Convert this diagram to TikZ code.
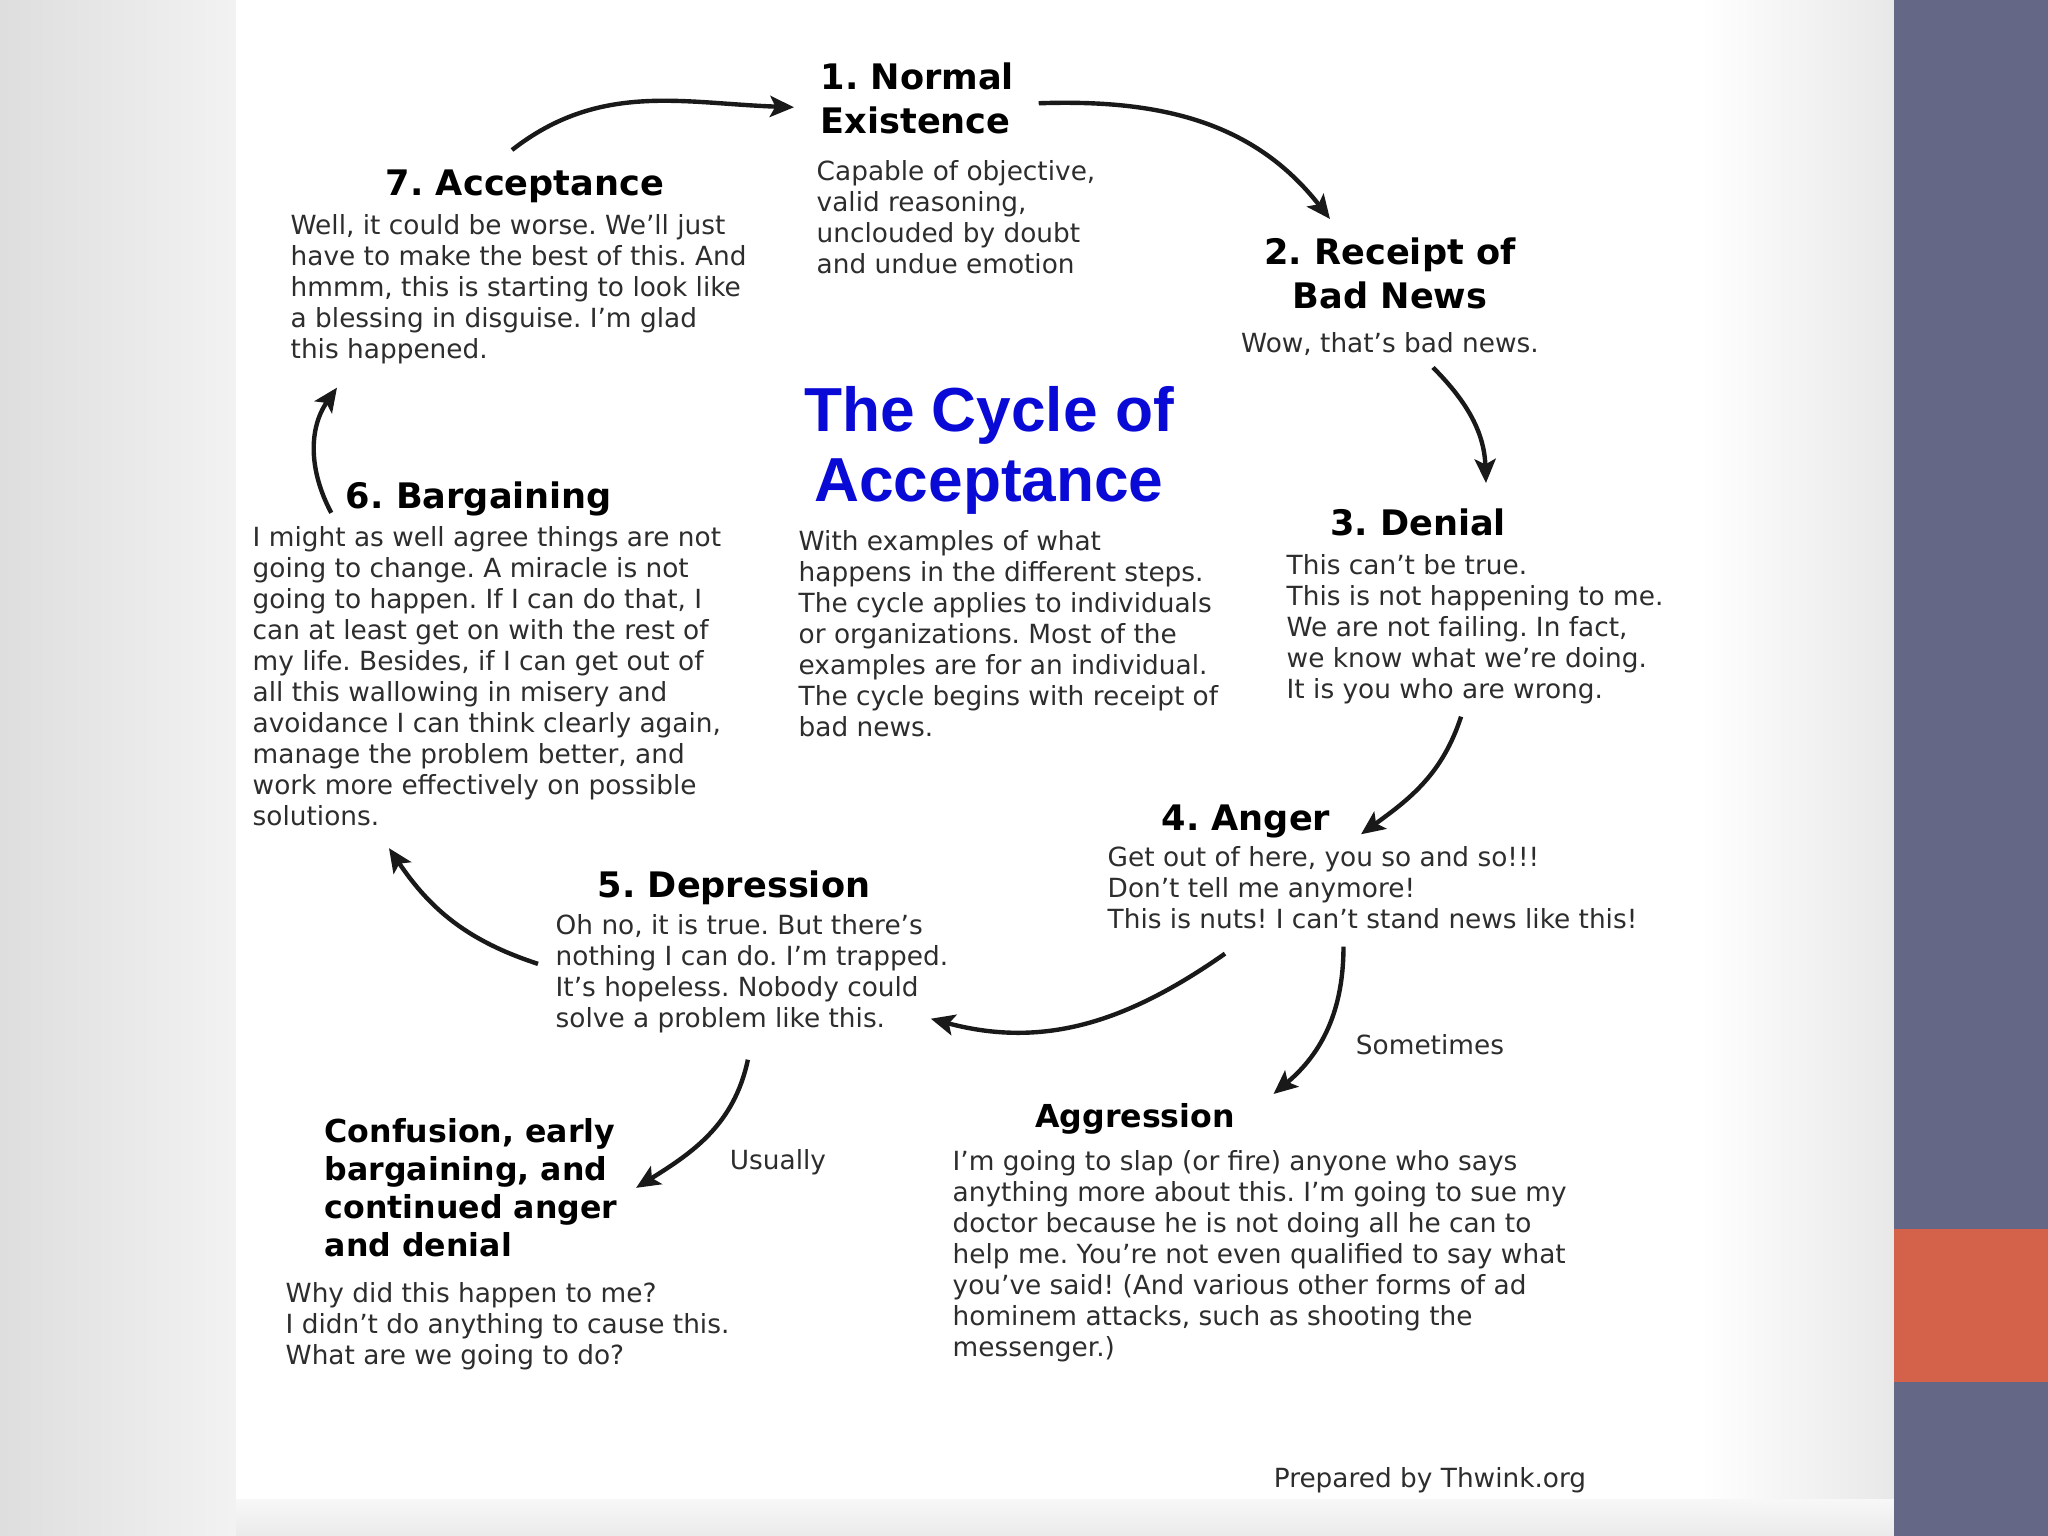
\documentclass[tikz,border=0pt]{standalone}
\usepackage{fontspec}
\setmainfont{DejaVu Sans}
\newfontfamily\titlefont{Liberation Sans}
\usetikzlibrary{arrows.meta, positioning, calc}
\definecolor{SlideSlate}{RGB}{100,104,134}
\definecolor{SlideOrange}{RGB}{212,98,74}
\definecolor{TitleBlue}{RGB}{10,10,215}
\definecolor{BodyGrey}{RGB}{45,45,45}
\frenchspacing

\begin{document}
\begin{tikzpicture}[
    >={Stealth[length=6.8pt,width=6pt,inset=1.5pt]},
    stagehead/.style={
        font=\fontsize{10}{12.5}\selectfont\bfseries,
        inner sep=0pt,
        align=center
    },
    sidehead/.style={
        font=\fontsize{9}{10.8}\selectfont\bfseries,
        inner sep=0pt,
        align=left
    },
    stagetext/.style={
        font=\fontsize{7.5}{8.8}\selectfont,
        text=BodyGrey,
        inner sep=0pt,
        align=left
    },
    cycletitle/.style={
        font=\titlefont\fontsize{17.7}{19.8}\selectfont\bfseries,
        text=TitleBlue,
        inner sep=0pt,
        align=center
    },
    flow/.style={->, line width=1.25pt, draw=black!90}
]

% slide background
\useasboundingbox (0,0) rectangle (20.48,-15.36);
\shade[left color=black!13, right color=black!5] (0,0) rectangle (2.36,-15.36);
\fill[white] (2.36,0) rectangle (18.94,-15.36);
\shade[left color=white, right color=black!9] (17.0,0) rectangle (18.94,-15.36);
\shade[top color=black!3, bottom color=black!8] (2.36,-14.99) rectangle (18.94,-15.36);
\fill[SlideSlate] (18.94,0) rectangle (20.48,-15.36);
\fill[SlideOrange] (18.94,-12.29) rectangle (20.48,-13.82);

\node[cycletitle, anchor=north] (title) at (9.89,-3.86) {The Cycle of\\Acceptance};
\node[stagetext, anchor=north west] (introtxt) at (7.98,-5.30)
{With examples of what\\happens in the different steps.\\The cycle applies to individuals\\or organizations. Most of the\\examples are for an individual.\\The cycle begins with receipt of\\bad news.};

\node[stagehead, align=left, anchor=north west] (normal) at (8.20,-0.62) {1. Normal\\Existence};
\node[stagetext, anchor=north west] (normaltxt) at (8.16,-1.60)
{Capable of objective,\\valid reasoning,\\unclouded by doubt\\and undue emotion};

\node[stagehead, anchor=north] (receipt) at (13.90,-2.37) {2. Receipt of\\Bad News};
\node[stagetext, anchor=north] (receipttxt) at (13.90,-3.32) {Wow, that's bad news.};

\node[stagehead, anchor=north] (denial) at (14.18,-5.08) {3. Denial};
\node[stagetext, anchor=north west] (denialtxt) at (12.86,-5.54)
{This can't be true.\\This is not happening to me.\\We are not failing. In fact,\\we know what we're doing.\\It is you who are wrong.};

\node[stagehead, anchor=north] (anger) at (12.46,-8.04) {4. Anger};
\node[stagetext, anchor=north west] (angertxt) at (11.07,-8.46)
{Get out of here, you so and so!!!\\Don't tell me anymore!\\This is nuts! I can't stand news like this!};

\node[stagehead, anchor=north] (depression) at (7.34,-8.70) {5. Depression};
\node[stagetext, anchor=north west] (depressiontxt) at (5.55,-9.14)
{Oh no, it is true. But there's\\nothing I can do. I'm trapped.\\It's hopeless. Nobody could\\solve a problem like this.};

\node[stagehead, anchor=north] (bargaining) at (4.79,-4.81) {6. Bargaining};
\node[stagetext, anchor=north west] (bargainingtxt) at (2.52,-5.26)
{I might as well agree things are not\\going to change. A miracle is not\\going to happen. If I can do that, I\\can at least get on with the rest of\\my life. Besides, if I can get out of\\all this wallowing in misery and\\avoidance I can think clearly again,\\manage the problem better, and\\work more effectively on possible\\solutions.};

\node[stagehead, anchor=north] (acceptance) at (5.25,-1.69) {7. Acceptance};
\node[stagetext, anchor=north west] (acceptancetxt) at (2.90,-2.14)
{Well, it could be worse. We'll just\\have to make the best of this. And\\hmmm, this is starting to look like\\a blessing in disguise. I'm glad\\this happened.};

\node[sidehead, anchor=north west] (confusion) at (3.24,-11.18)
{Confusion, early\\bargaining, and\\continued anger\\and denial};
\node[stagetext, anchor=north west] (confusiontxt) at (2.85,-12.82)
{Why did this happen to me?\\I didn't do anything to cause this.\\What are we going to do?};

\node[sidehead, anchor=north] (aggression) at (11.35,-11.03) {Aggression};
\node[stagetext, anchor=north west] (aggressiontxt) at (9.52,-11.50)
{I'm going to slap (or fire) anyone who says\\anything more about this. I'm going to sue my\\doctor because he is not doing all he can to\\help me. You're not even qualified to say what\\you've said! (And various other forms of ad\\hominem attacks, such as shooting the\\messenger.)};

\node[stagetext] (usually) at (7.78,-11.62) {Usually};
\node[stagetext] (sometimes) at (14.30,-10.45) {Sometimes};
\node[stagetext] (credit) at (14.30,-14.80) {Prepared by Thwink.org};

% the cycle
\draw[flow] ([shift={(-0.13,0.19)}]acceptance.north) to[out=38,in=178] ([shift={(-0.26,-0.09)}]normal.west);
\draw[flow] ([shift={(0.24,-0.05)}]normal.east) to[out=2,in=128] ([shift={(-0.60,0.18)}]receipt.north);
\draw[flow] ([shift={(0.43,-0.11)}]receipttxt.south) to[out=-45,in=92] ([shift={(0.68,0.25)}]denial.north);
\draw[flow] ([shift={(-0.14,-0.12)}]denialtxt.south) to[out=-108,in=36] ([shift={(0.30,-0.13)}]anger.east);
\draw[flow] ([shift={(1.18,-0.24)}]angertxt.south west) to[out=-145,in=-15] ([shift={(-0.18,0.15)}]depressiontxt.south east);
\draw[flow] ([shift={(-0.17,0.10)}]depressiontxt.west) to[out=162,in=-56] ([shift={(1.37,-0.22)}]bargainingtxt.south west);
\draw[flow] ([shift={(-0.14,-0.14)}]bargaining.west) to[out=118,in=-125] ([shift={(0.47,-0.23)}]acceptancetxt.south west);

% side branches
\draw[flow] ([shift={(-0.29,-0.17)}]angertxt.south) to[out=-90,in=40] ([shift={(0.38,0.09)}]aggression.north east);
\draw[flow] ([shift={(-0.04,-0.26)}]depressiontxt.south) to[out=-102,in=32] ([shift={(0.18,0)}]confusion.east);

\end{tikzpicture}
\end{document}
